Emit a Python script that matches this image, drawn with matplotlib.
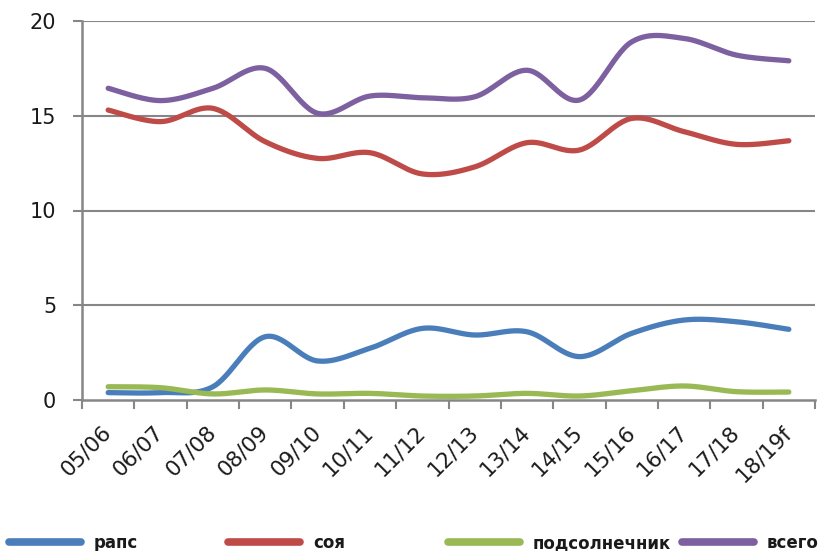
import numpy as np
import matplotlib
matplotlib.use("Agg")
import matplotlib.pyplot as plt
from matplotlib.lines import Line2D

seasons = ["05/06", "06/07", "07/08", "08/09", "09/10", "10/11", "11/12",
           "12/13", "13/14", "14/15", "15/16", "16/17", "17/18", "18/19f"]
raps = [0.39, 0.39, 0.70, 3.34, 2.06, 2.73, 3.78, 3.43, 3.60, 2.29, 3.52, 4.22, 4.13, 3.73]
soya = [15.30, 14.69, 15.39, 13.63, 12.75, 13.05, 11.93, 12.30, 13.58, 13.19, 14.86, 14.16, 13.49, 13.68]
sunflower = [0.70, 0.65, 0.32, 0.53, 0.32, 0.35, 0.21, 0.21, 0.35, 0.21, 0.49, 0.74, 0.44, 0.42]
total = [16.45, 15.80, 16.45, 17.50, 15.13, 16.04, 15.95, 16.00, 17.40, 15.83, 18.90, 19.08, 18.20, 17.90]
series_names = ["рапс", "соя", "подсолнечник", "всего"]
colors = ["#4A7EBB", "#BE4B48", "#98B954", "#7D60A0"]
yticks = [0, 5, 10, 15, 20]


def smooth(x, y, n=30):
    """Excel-like smoothed line: Bezier segments with Catmull-Rom control points."""
    x = np.asarray(x, float)
    y = np.asarray(y, float)
    px = np.concatenate([[x[0]], x, [x[-1]]])
    py = np.concatenate([[y[0]], y, [y[-1]]])
    xs, ys = [], []
    t = np.linspace(0, 1, n)
    for i in range(1, len(px) - 2):
        p0 = np.array([px[i], py[i]])
        p3 = np.array([px[i + 1], py[i + 1]])
        p1 = p0 + (np.array([px[i + 1], py[i + 1]]) - np.array([px[i - 1], py[i - 1]])) / 6
        p2 = p3 - (np.array([px[i + 2], py[i + 2]]) - np.array([px[i], py[i]])) / 6
        b = ((1 - t) ** 3)[:, None] * p0 + (3 * (1 - t) ** 2 * t)[:, None] * p1 \
            + (3 * (1 - t) * t ** 2)[:, None] * p2 + (t ** 3)[:, None] * p3
        xs.append(b[:, 0])
        ys.append(b[:, 1])
    return np.concatenate(xs), np.concatenate(ys)


fig = plt.figure(figsize=(8.3, 5.51), dpi=100)
ax = fig.add_axes([82 / 830, 1 - 400 / 551, (815 - 82) / 830, (400 - 21) / 551])

grid_c = "#868686"
x = np.arange(len(seasons))
for vals, c, name in zip([raps, soya, sunflower, total], colors, series_names):
    sx, sy = smooth(x, vals)
    ax.plot(sx, sy, color=c, lw=3.8, solid_capstyle="round", solid_joinstyle="round",
            label=name, zorder=3)

ax.set_xlim(-0.5, len(seasons) - 0.5)
ax.set_ylim(0, 20)
ax.set_yticks(yticks)
ax.set_yticklabels([str(v) for v in yticks])
for v in yticks[1:]:
    ax.axhline(v, color=grid_c, lw=1.5, zorder=1)

ax.set_xticks(np.arange(-0.5, len(seasons)), minor=False)
ax.set_xticklabels([])
ax.set_xticks(x, minor=True)
ax.set_xticklabels(seasons, minor=True, rotation=45, ha="right", va="center",
                   rotation_mode="anchor", fontsize=15.5, color="#1a1a1a")
ax.tick_params(axis="x", which="major", length=6.5, width=1.5, color=grid_c)
ax.tick_params(axis="x", which="minor", length=0, pad=21)
ax.tick_params(axis="y", length=6.5, width=1.5, color=grid_c, labelsize=15,
               labelcolor="#1a1a1a", pad=12)

for s in ["top", "right"]:
    ax.spines[s].set_visible(False)
for s in ["left", "bottom"]:
    ax.spines[s].set_color(grid_c)
    ax.spines[s].set_linewidth(1.8)

xs_leg = [9, 228, 448, 682]
for name, c, xl in zip(series_names, colors, xs_leg):
    h = Line2D([], [], color=c, lw=5.5, solid_capstyle="round")
    leg = fig.legend([h], [name], loc="center left",
                     bbox_to_anchor=(xl / 830, 1 - 543 / 551),
                     frameon=False, borderpad=0, borderaxespad=0,
                     handlelength=4.3, handletextpad=0.8,
                     prop={"size": 12, "weight": "bold"})
    for t in leg.get_texts():
        t.set_color("#1a1a1a")

fig.savefig("out.png", dpi=100)
